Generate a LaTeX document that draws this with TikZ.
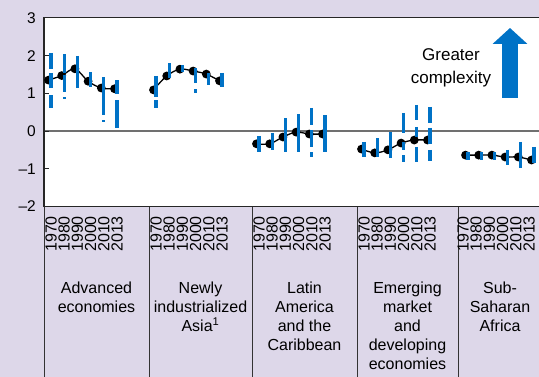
\documentclass[tikz,border=0pt]{standalone}
\usepackage{fontspec}
\setmainfont{Liberation Sans}
\usetikzlibrary{arrows.meta}

\definecolor{panel}{RGB}{221,215,233}
\definecolor{imfblue}{RGB}{0,114,198}
\definecolor{zerogray}{RGB}{112,112,112}

\tikzset{
  rangebar/.style={imfblue, line width=3.3pt},
  trend/.style={black, line width=1.3pt},
  ticklab/.style={anchor=east, inner sep=0pt, font=\fontsize{15.5}{18}\selectfont},
  yearlab/.style={rotate=90, anchor=east, inner sep=0pt, font=\fontsize{16}{18}\selectfont},
  grouplab/.style={anchor=north, align=center, inner sep=0pt, font=\fontsize{16}{19}\selectfont},
}

\begin{document}
\begin{tikzpicture}[x=1pt, y=1pt]
  \useasboundingbox[fill=panel] (0,0) rectangle (539,377);

  % columns below the plot
  \foreach \xd in {44,149,252,357,458}
    \draw[black!80, line width=0.9pt] (\xd,0) -- (\xd,170.6);

  \begin{scope}[shift={(0,246)}, y=37.7pt]
    \fill[white] (44,-2) rectangle (539,3);
    \draw[zerogray, line width=1.8pt] (44,0) -- (539,0);
    \draw[black!85, line width=1.2pt] (539,3) -- (44,3) -- (44,-2) -- (539,-2);
    \foreach \v/\t [count=\i] in {3/3, 2/2, 1/1, 0/0, -1/\textendash1, -2/\textendash2} {
      \draw[black!85, line width=0.9pt] (44,\v) -- (49,\v);
      \node[ticklab] (tick\i) at (36,\v) {\t};
    }

    % group / left edge / index values / ranges (k/top/bottom)
    \foreach \g/\xo/\dts/\brs in {
      adv/44/{1.35,1.47,1.65,1.32,1.14,1.12}/{0/2.07/1.64, 0/1.54/1.14, 0/0.95/0.61, 1/2.04/1.54, 1/1.49/1.03, 1/0.90/0.85, 2/1.99/1.14, 3/1.56/1.17, 4/1.43/0.42, 4/0.29/0.24, 5/1.35/0.98, 5/0.82/0.08},
      nia/149/{1.09,1.46,1.64,1.59,1.51,1.33}/{0/1.46/0.90, 0/0.82/0.61, 1/1.80/1.41, 2/1.75/1.56, 3/1.67/1.27, 3/1.11/1.01, 4/1.54/1.22, 5/1.54/1.17},
      lac/252/{-0.34,-0.34,-0.16,-0.03,-0.08,-0.08}/{0/-0.13/-0.56, 1/-0.05/-0.50, 2/0.34/-0.56, 3/0.45/-0.56, 4/0.61/0.16, 4/0.03/-0.42, 4/-0.56/-0.69, 5/0.42/-0.56},
      emd/357/{-0.48,-0.58,-0.50,-0.32,-0.24,-0.24}/{0/-0.29/-0.69, 1/-0.19/-0.69, 2/-0.03/-0.72, 3/0.48/-0.05, 3/-0.29/-0.50, 3/-0.64/-0.82, 4/0.69/0.29, 4/0.11/-0.16, 4/-0.42/-0.82, 5/0.64/0.21, 5/0.08/-0.34, 5/-0.50/-0.80},
      ssa/461/{-0.64,-0.64,-0.64,-0.69,-0.69,-0.77}/{0/-0.56/-0.77, 1/-0.56/-0.77, 2/-0.56/-0.77, 3/-0.50/-0.90, 4/-0.29/-0.98, 5/-0.42/-0.85}} {
      \foreach \v [count=\k from 0] in \dts
        \coordinate (\g\k) at ({\xo+4.5+13.2*\k},\v);
      \draw[trend] plot[smooth, tension=0.55] coordinates {(\g0) (\g1) (\g2) (\g3) (\g4) (\g5)};
      \foreach \k in {0,...,5}
        \fill (\g\k) circle (4.4pt);
      \foreach \k/\a/\b in \brs
        \draw[rangebar] ({\xo+7+13.2*\k},\a) -- ({\xo+7+13.2*\k},\b);
    }
  \end{scope}

  % years under each group
  \foreach \xo [count=\g] in {44,149,252,357,456}
    \foreach \yr [count=\k from 0] in {1970,1980,1990,2000,2010,2013}
      \node[yearlab] (yr\g\k) at ({\xo+7+13.2*\k},161) {\yr};

  \node[grouplab] (advlab) at (96.5,95) {Advanced\\economies};
  \node[grouplab] (nialab) at (200.5,95) {Newly\\industrialized\\Asia\textsuperscript{1}};
  \node[grouplab] (laclab) at (304.5,95) {Latin\\America\\and the\\Caribbean};
  \node[grouplab] (emdlab) at (407.5,95) {Emerging\\market\\and\\developing\\economies};
  \node[grouplab] (ssalab) at (500,95) {Sub-\\Saharan\\Africa};

  % greater complexity arrow
  \node[align=center, inner sep=0pt, font=\fontsize{17}{23}\selectfont] (greater) at (451,309) {Greater\\complexity};
  \coordinate (arrowbase) at (510,279);
  \coordinate (arrowtip) at (510,349);
  \draw[imfblue, line width=16pt, -{Triangle[width=34pt, length=16pt]}] (arrowbase) -- (arrowtip);
\end{tikzpicture}
\end{document}
